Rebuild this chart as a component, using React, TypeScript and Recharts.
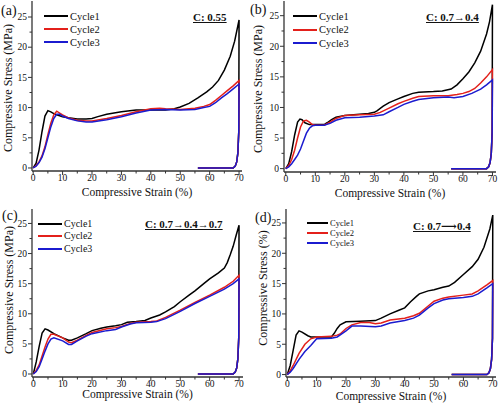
import { LineChart, Line, XAxis, YAxis, Legend } from "recharts";

const FONT = "\"Liberation Serif\", \"DejaVu Serif\", \"Times New Roman\", Times, serif";
const AXIS = "#333";
const INK = "#111";

const cycleNames = ["Cycle1", "Cycle2", "Cycle3"];
const cycleColors = ["#000000", "#e3201b", "#1b1bcf"];

const strainTicks = [0, 5, 10, 15, 20, 25, 30, 35, 40, 45, 50, 55, 60, 65, 70];
const stressTicks = [0, 2.5, 5, 7.5, 10, 12.5, 15, 17.5, 20, 22.5, 25];

// (a) C: 0.55  [strain %, stress]
const aCycle1 = [[0, 0], [1, 0.8], [2, 3], [3, 6], [4, 8.6], [5, 9.5], [6, 9.3], [7, 9], [8, 8.8], [10, 8.5], [12, 8.3], [15, 8.1], [18, 8.1], [20, 8.2], [22, 8.5], [25, 8.9], [30, 9.3], [35, 9.6], [40, 9.6], [45, 9.6], [48, 9.8], [50, 10.1], [53, 10.7], [56, 11.6], [59, 12.6], [61, 13.4], [63, 14.5], [65, 16.2], [67, 18.5], [68.5, 21], [70, 24.5], [69.9, 6], [69.6, 2.5], [69.2, 1], [68.7, 0.3], [68, 0], [56, 0]];
const aCycle2 = [[0, 0], [1, 0.4], [2, 1], [3, 2], [4, 3.5], [5, 5.5], [6, 7.4], [7, 8.8], [8, 9.4], [9, 9.1], [10, 8.8], [12, 8.3], [15, 7.9], [18, 7.8], [20, 7.8], [25, 8.2], [30, 8.7], [35, 9.3], [40, 9.8], [43, 9.9], [45, 9.8], [50, 9.7], [55, 9.9], [58, 10.2], [60, 10.5], [62, 11.2], [64, 12], [66, 12.8], [68, 13.6], [70, 14.5], [69.9, 6], [69.6, 2.5], [69.2, 1], [68.7, 0.3], [68, 0], [56, 0]];
const aCycle3 = [[0, 0], [1, 0.3], [2, 0.9], [3, 1.8], [4, 3.2], [5, 5], [6, 6.8], [7, 8.2], [8, 8.9], [9, 8.9], [10, 8.6], [12, 8.2], [15, 7.8], [18, 7.6], [20, 7.6], [25, 8], [30, 8.5], [35, 9.1], [40, 9.6], [45, 9.7], [50, 9.6], [55, 9.7], [58, 10], [60, 10.2], [62, 10.8], [64, 11.6], [66, 12.3], [68, 13.1], [70, 13.9], [69.9, 6], [69.6, 2.5], [69.2, 1], [68.7, 0.3], [68, 0], [56, 0]];

// (b) C: 0.7→0.4
const bCycle1 = [[0, 0], [1, 0.8], [2, 2.8], [3, 5.5], [4, 7.6], [4.8, 8.1], [5.5, 8], [6.5, 7.5], [8, 7.2], [10, 7.2], [13, 7.2], [14, 7.5], [15.5, 8], [17, 8.4], [20, 8.7], [25, 8.9], [28, 9], [30, 9.2], [31, 9.5], [33, 10.2], [35, 10.8], [38, 11.4], [40, 11.8], [43, 12.3], [45, 12.5], [50, 12.6], [53, 12.7], [56, 13], [58, 13.7], [60, 14.7], [62, 15.8], [64, 17.3], [66, 19.2], [68, 22], [69, 24], [70, 26.8], [69.9, 6], [69.6, 2.5], [69.2, 1], [68.7, 0.3], [68, 0], [56, 0]];
const bCycle2 = [[0, 0], [1, 0.5], [2, 1.5], [3, 3], [4, 5], [5, 6.8], [6, 7.8], [7, 7.9], [8, 7.6], [9, 7.2], [10, 7.1], [13, 7.1], [15, 7.6], [17, 8.2], [20, 8.7], [25, 8.8], [30, 8.9], [32, 9.2], [35, 9.9], [38, 10.6], [40, 11], [43, 11.5], [45, 11.8], [50, 11.9], [55, 11.9], [58, 12.1], [60, 12.3], [62, 12.6], [64, 13.1], [66, 14], [68, 15], [70, 16.2], [69.9, 6], [69.6, 2.5], [69.2, 1], [68.7, 0.3], [68, 0], [56, 0]];
const bCycle3 = [[0, 0], [1, 0.3], [2, 0.8], [3, 1.5], [4, 2.2], [5, 3.2], [6, 4.5], [7, 5.8], [8, 6.6], [9, 7], [10, 7.1], [13, 7.1], [15, 7.4], [17, 7.9], [20, 8.3], [25, 8.4], [30, 8.6], [33, 8.8], [35, 9.3], [38, 10], [40, 10.5], [43, 11], [45, 11.3], [50, 11.6], [55, 11.7], [57, 11.6], [60, 11.8], [63, 12.3], [66, 13], [68, 13.7], [70, 14.5], [69.9, 6], [69.6, 2.5], [69.2, 1], [68.7, 0.3], [68, 0], [56, 0]];

// (c) C: 0.7→0.4→0.7
const cCycle1 = [[0, 0], [1, 2], [2, 4.6], [3, 6.8], [4, 7.5], [5, 7.3], [7, 6.7], [10, 6], [12, 5.6], [13, 5.6], [15, 6], [18, 6.7], [20, 7.2], [23, 7.6], [25, 7.8], [28, 8], [30, 8.2], [32, 8.6], [35, 8.7], [38, 8.9], [40, 9.3], [43, 9.8], [45, 10.3], [48, 11.2], [50, 12], [53, 13.1], [55, 13.8], [58, 15], [60, 15.8], [63, 16.8], [65, 17.6], [66, 18.5], [67, 19.8], [68, 21.2], [69, 23], [70, 24.7], [69.9, 6], [69.6, 2.5], [69.2, 1], [68.7, 0.3], [68, 0], [56, 0]];
const cCycle2 = [[0, 0], [1, 0.6], [2, 1.5], [3, 3], [4, 4.5], [5, 5.8], [6, 6.6], [7, 6.6], [10, 6], [12, 5.3], [13, 5.2], [15, 5.6], [18, 6.4], [20, 6.9], [25, 7.5], [28, 7.7], [30, 7.9], [33, 8.4], [35, 8.6], [40, 8.7], [42, 8.8], [45, 9.4], [50, 10.6], [55, 11.9], [60, 13.1], [65, 14.4], [68, 15.4], [70, 16.4], [69.9, 6], [69.6, 2.5], [69.2, 1], [68.7, 0.3], [68, 0], [56, 0]];
const cCycle3 = [[0, 0], [1, 0.4], [2, 1.2], [3, 2.5], [4, 3.8], [5, 5], [6, 5.8], [7, 6], [10, 5.5], [12, 4.9], [13, 4.9], [15, 5.5], [18, 6.3], [20, 6.7], [25, 7.2], [28, 7.4], [30, 7.8], [33, 8.3], [35, 8.5], [40, 8.6], [42, 8.7], [45, 9.2], [50, 10.4], [55, 11.7], [60, 12.9], [65, 14.1], [68, 15], [70, 15.8], [69.9, 6], [69.6, 2.5], [69.2, 1], [68.7, 0.3], [68, 0], [56, 0]];

// (d) C: 0.7⟶0.4
const dCycle1 = [[0, 0], [1, 1.5], [2, 4], [3, 6.5], [4, 7.2], [5, 7], [7, 6.4], [8, 6.2], [10, 6.2], [15, 6.2], [16, 6.8], [17, 7.6], [18, 8.2], [20, 8.7], [25, 8.8], [30, 8.9], [32, 9.3], [35, 10], [38, 10.6], [40, 11], [42, 12], [44, 12.9], [45, 13.3], [48, 13.8], [50, 14], [53, 14.4], [55, 14.6], [57, 15.2], [60, 16.5], [63, 17.8], [65, 19], [67, 21], [69, 24], [70, 26.3], [69.9, 6], [69.6, 2.5], [69.2, 1], [68.7, 0.3], [68, 0], [56, 0]];
const dCycle2 = [[0, 0], [1, 0.6], [2, 1.5], [4, 3.5], [6, 5], [8, 5.9], [10, 6.2], [15, 6.3], [17, 6.5], [18, 6.7], [20, 7.6], [22, 8.2], [25, 8.6], [28, 8.6], [30, 8.4], [32, 8.5], [35, 9], [40, 9.3], [43, 9.7], [45, 10.1], [48, 11.3], [50, 12.1], [53, 12.6], [55, 12.8], [60, 13.1], [63, 13.3], [65, 13.8], [68, 14.8], [70, 15.5], [69.9, 6], [69.6, 2.5], [69.2, 1], [68.7, 0.3], [68, 0], [56, 0]];
const dCycle3 = [[0, 0], [1, 0.4], [2, 1], [4, 2.5], [6, 3.8], [8, 4.8], [10, 5.9], [15, 6], [17, 6.2], [20, 7.2], [22, 8], [25, 8], [30, 7.9], [32, 8], [35, 8.5], [40, 8.9], [43, 9.3], [45, 9.8], [48, 11], [50, 11.7], [53, 12.3], [55, 12.5], [60, 12.7], [63, 12.9], [65, 13.3], [68, 14.3], [70, 15], [69.9, 6], [69.6, 2.5], [69.2, 1], [68.7, 0.3], [68, 0], [56, 0]];

const toPts = (arr: number[][]) => arr.map(([x, y]) => ({ x, y }));

function XTick({ x, y, payload }: any) {
  const major = payload.value % 10 === 0;
  return (
    <g>
      <line x1={x} x2={x} y1={y} y2={y + (major ? 4 : 2.5)} stroke={AXIS} strokeWidth={1} />
      {major && (
        <text x={x} y={y + 10} textAnchor="middle" fontSize={9.5} style={{ fontFamily: FONT }} fill={INK}>
          {payload.value}
        </text>
      )}
    </g>
  );
}

function YTick({ x, y, payload }: any) {
  const major = payload.value % 5 === 0;
  return (
    <g>
      <line x1={x} x2={x - (major ? 4 : 2.5)} y1={y} y2={y} stroke={AXIS} strokeWidth={1} />
      {major && (
        <text x={x - 5} y={y + 3.3} textAnchor="end" fontSize={9.5} style={{ fontFamily: FONT }} fill={INK}>
          {payload.value}
        </text>
      )}
    </g>
  );
}

const legendContent = (rowH: number, lineW: number, fs: number) => ({ payload }: any) => (
  <div style={{ fontFamily: FONT, fontSize: fs, color: INK }}>
    {(payload || []).map((p: any) => (
      <div key={p.value} style={{ display: "flex", alignItems: "center", height: rowH, lineHeight: `${rowH}px` }}>
        <span style={{ display: "inline-block", width: lineW, borderTop: `2px solid ${p.color}`, marginRight: 2 }} />
        <span>{p.value}</span>
      </div>
    ))}
  </div>
);

type PanelProps = {
  left: number; top: number; width: number; height: number;
  margin: { top: number; right: number; bottom: number; left: number };
  yWidth: number; xHeight: number;
  xDomain: [number, number]; yDomain: [number, number];
  cycles: number[][][];
  yTitle: string; yTitlePos: [number, number]; xTitleY: number;
  legendPos: [number, number]; legendRow: number; legendLine: number; legendFont: number;
};

function Panel(p: PanelProps) {
  const xTitle = () => (
    <text x={p.margin.left + p.yWidth + (p.width - p.margin.left - p.yWidth - p.margin.right) / 2} y={p.xTitleY}
      textAnchor="middle" fontSize={11.5} style={{ fontFamily: FONT }} fill={INK}>
      Compressive Strain (%)
    </text>
  );
  const yTitle = () => (
    <text x={p.yTitlePos[0]} y={p.yTitlePos[1]} transform={`rotate(-90, ${p.yTitlePos[0]}, ${p.yTitlePos[1]})`}
      textAnchor="middle" dominantBaseline="central" fontSize={12} style={{ fontFamily: FONT }} fill={INK}>
      {p.yTitle}
    </text>
  );
  return (
    <div style={{ position: "absolute", left: p.left, top: p.top, fontFamily: FONT }}>
      <LineChart width={p.width} height={p.height} margin={p.margin}>
        <XAxis dataKey="x" type="number" domain={p.xDomain} allowDataOverflow ticks={strainTicks} interval={0}
          height={p.xHeight} tickSize={0} tickMargin={0} tickLine={false} tick={<XTick />}
          axisLine={{ stroke: AXIS, strokeWidth: 1.3 }} label={{ content: xTitle }} />
        <YAxis type="number" domain={p.yDomain} allowDataOverflow ticks={stressTicks} interval={0}
          width={p.yWidth} tickSize={0} tickMargin={0} tickLine={false} tick={<YTick />}
          axisLine={{ stroke: AXIS, strokeWidth: 1.3 }} label={{ content: yTitle }} />
        <XAxis xAxisId="top" orientation="top" dataKey="x" type="number" domain={p.xDomain} allowDataOverflow
          height={0} tick={false} axisLine={{ stroke: AXIS, strokeWidth: 1.3 }} />
        <YAxis yAxisId="right" orientation="right" type="number" domain={p.yDomain} allowDataOverflow
          width={0} tick={false} axisLine={{ stroke: AXIS, strokeWidth: 1.3 }} />
        {p.cycles.map((c, i) => (
          <Line key={cycleNames[i]} name={cycleNames[i]} data={toPts(c)} dataKey="y" type="linear"
            stroke={cycleColors[i]} strokeWidth={1.5} dot={false} activeDot={false} isAnimationActive={false} />
        ))}
        <Legend layout="vertical" align="center" verticalAlign="middle"
          wrapperStyle={{ left: p.legendPos[0], top: p.legendPos[1], width: "auto", height: "auto" }}
          content={legendContent(p.legendRow, p.legendLine, p.legendFont)} />
      </LineChart>
    </div>
  );
}

function Note({ x, y, size, bold, underline, children }: any) {
  return (
    <div style={{
      position: "absolute", left: x, top: y - size / 2, fontSize: size, lineHeight: `${size}px`,
      fontFamily: FONT, fontWeight: bold ? "bold" : "normal", textDecoration: underline ? "underline" : "none",
      color: INK, whiteSpace: "nowrap",
    }}>
      {children}
    </div>
  );
}

export default function App() {
  return (
    <div style={{ position: "absolute", left: 0, top: 0, width: 500, height: 405, background: "#fff", overflow: "hidden", fontFamily: FONT }}>
      <Panel left={0} top={0} width={250} height={200} margin={{ top: 1, right: 8, bottom: 0, left: 0 }}
        yWidth={32} xHeight={29} xDomain={[-0.4, 71]} yDomain={[-0.5, 27.65]}
        cycles={[aCycle1, aCycle2, aCycle3]} yTitle="Compressive Stress (MPa)" yTitlePos={[8, 88]} xTitleY={196}
        legendPos={[44, 9.5]} legendRow={13} legendLine={24} legendFont={10.5} />
      <Panel left={250} top={0} width={250} height={200} margin={{ top: 1, right: 4, bottom: 0, left: 0 }}
        yWidth={34} xHeight={28} xDomain={[-0.6, 71.2]} yDomain={[-0.55, 27.4]}
        cycles={[bCycle1, bCycle2, bCycle3]} yTitle="Compressive Stress (MPa)" yTitlePos={[7.5, 89]} xTitleY={197}
        legendPos={[43, 9.5]} legendRow={13.5} legendLine={24} legendFont={10.5} />
      <Panel left={0} top={200} width={250} height={205} margin={{ top: 9, right: 7, bottom: 0, left: 0 }}
        yWidth={32} xHeight={28} xDomain={[-0.44, 71.35]} yDomain={[-0.5, 27.4]}
        cycles={[cCycle1, cCycle2, cCycle3]} yTitle="Compressive Stress (MPa)" yTitlePos={[8.5, 90]} xTitleY={197.5}
        legendPos={[38, 17.5]} legendRow={12.5} legendLine={24} legendFont={10} />
      <Panel left={250} top={200} width={250} height={205} margin={{ top: 9, right: 4, bottom: 0, left: 0 }}
        yWidth={36} xHeight={28} xDomain={[-0.44, 71.1]} yDomain={[-0.4, 27.3]}
        cycles={[dCycle1, dCycle2, dCycle3]} yTitle="Compressive Stress (%)" yTitlePos={[12.5, 88]} xTitleY={200}
        legendPos={[57, 18]} legendRow={10} legendLine={21} legendFont={8.5} />

      <Note x={1} y={11} size={14}>(a)</Note>
      <Note x={250} y={9.5} size={14}>(b)</Note>
      <Note x={2} y={215.5} size={14}>(c)</Note>
      <Note x={255} y={217.5} size={14}>(d)</Note>

      <Note x={193} y={17} size={11} bold underline>C: 0.55</Note>
      <Note x={426} y={17} size={11} bold underline>C: 0.7→0.4</Note>
      <Note x={145} y={224} size={11} bold underline>C: 0.7→0.4→0.7</Note>
      <Note x={413} y={226} size={11} bold underline>C: 0.7⟶0.4</Note>
    </div>
  );
}
